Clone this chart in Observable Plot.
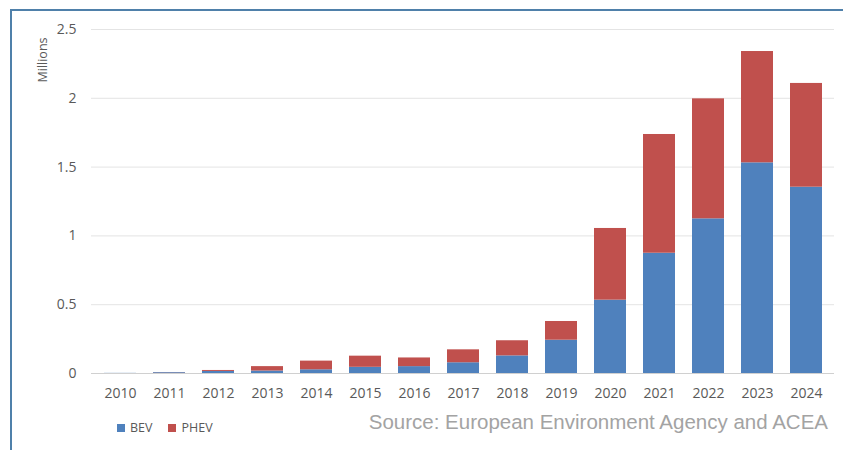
<!DOCTYPE html>
<html>
<head>
<meta charset="utf-8">
<script src="https://cdn.jsdelivr.net/npm/d3@7"></script>
<script src="https://cdn.jsdelivr.net/npm/@observablehq/plot@0.6"></script>
<style>
  html, body { margin: 0; padding: 0; background: #fff; }
  #wrap { position: relative; width: 843px; height: 450px; overflow: hidden; font-family: "Open Sans", "DejaVu Sans", sans-serif; }
  #frame { position: absolute; left: 10px; top: 9px; width: 840px; height: 445px; border-left: 2px solid #4f80aa; border-top: 2px solid #4f80aa; box-sizing: border-box; pointer-events: none; }
  #ylab { position: absolute; left: 42px; top: 60px; transform: translate(-50%, -50%) rotate(-90deg); font-size: 12.5px; color: #595959; white-space: nowrap; }
  #legend { position: absolute; left: 117px; top: 419px; font-size: 12.5px; color: #595959; display: flex; align-items: center; }
  #legend span.sw { display: inline-block; width: 8px; height: 8px; margin-right: 5px; }
  #legend span.item { display: inline-flex; align-items: center; margin-right: 16px; }
  #source { position: absolute; right: 15px; top: 410px; font-family: "Liberation Sans", Arial, sans-serif; font-size: 20.5px; color: #a3a3a3; white-space: nowrap; }
</style>
</head>
<body>
<div id="wrap">
  <div id="chart"></div>
  <div id="frame"></div>
  <div id="ylab">Millions</div>
  <div id="legend"></div>
  <div id="source">Source: European Environment Agency and ACEA</div>
</div>
<script>
const years = ["2010","2011","2012","2013","2014","2015","2016","2017","2018","2019","2020","2021","2022","2023","2024"];
const bev  = [0.001, 0.006, 0.015, 0.018, 0.027, 0.045, 0.050, 0.078, 0.128, 0.242, 0.533, 0.874, 1.124, 1.531, 1.354];
const phev = [0.000, 0.001, 0.007, 0.032, 0.063, 0.081, 0.063, 0.094, 0.110, 0.136, 0.521, 0.863, 0.872, 0.809, 0.754];
const seriesNames = ["BEV", "PHEV"];
const seriesColors = ["#4f81bd", "#c0504d"];
const yTicks = [0, 0.5, 1, 1.5, 2, 2.5];
const yTickLabels = ["0", "0.5", "1", "1.5", "2", "2.5"];

const rows = [];
years.forEach((y, i) => rows.push({year: y, series: seriesNames[0], value: bev[i]}));
years.forEach((y, i) => rows.push({year: y, series: seriesNames[1], value: phev[i]}));

const fmt = (d) => yTickLabels[yTicks.indexOf(d)];

const chart = Plot.plot({
  width: 843,
  height: 450,
  marginTop: 29,
  marginBottom: 77,
  marginLeft: 91,
  marginRight: 9,
  style: {fontFamily: '"Open Sans", "DejaVu Sans", sans-serif', fontSize: "14px", color: "#595959", background: "transparent"},
  x: {domain: years, paddingInner: 0.355, paddingOuter: 0.1775, label: null},
  y: {domain: [0, 2.5], label: null},
  color: {domain: seriesNames, range: seriesColors},
  marks: [
    Plot.gridY(yTicks.filter(d => d > 0), {stroke: "#d9d9d9", strokeOpacity: 0.7}),
    Plot.ruleY([0], {stroke: "#d0d0d0"}),
    Plot.barY(rows, {x: "year", y: "value", fill: "series", order: seriesNames}),
    Plot.axisX({tickSize: 0, tickPadding: 15}),
    Plot.axisY({ticks: yTicks, tickFormat: fmt, tickSize: 0, tickPadding: 15})
  ]
});
document.getElementById("chart").appendChild(chart);

const legend = document.getElementById("legend");
seriesNames.forEach((n, i) => {
  const item = document.createElement("span");
  item.className = "item";
  const sw = document.createElement("span");
  sw.className = "sw";
  sw.style.background = seriesColors[i];
  item.appendChild(sw);
  item.appendChild(document.createTextNode(n));
  legend.appendChild(item);
});
</script>
</body>
</html>
